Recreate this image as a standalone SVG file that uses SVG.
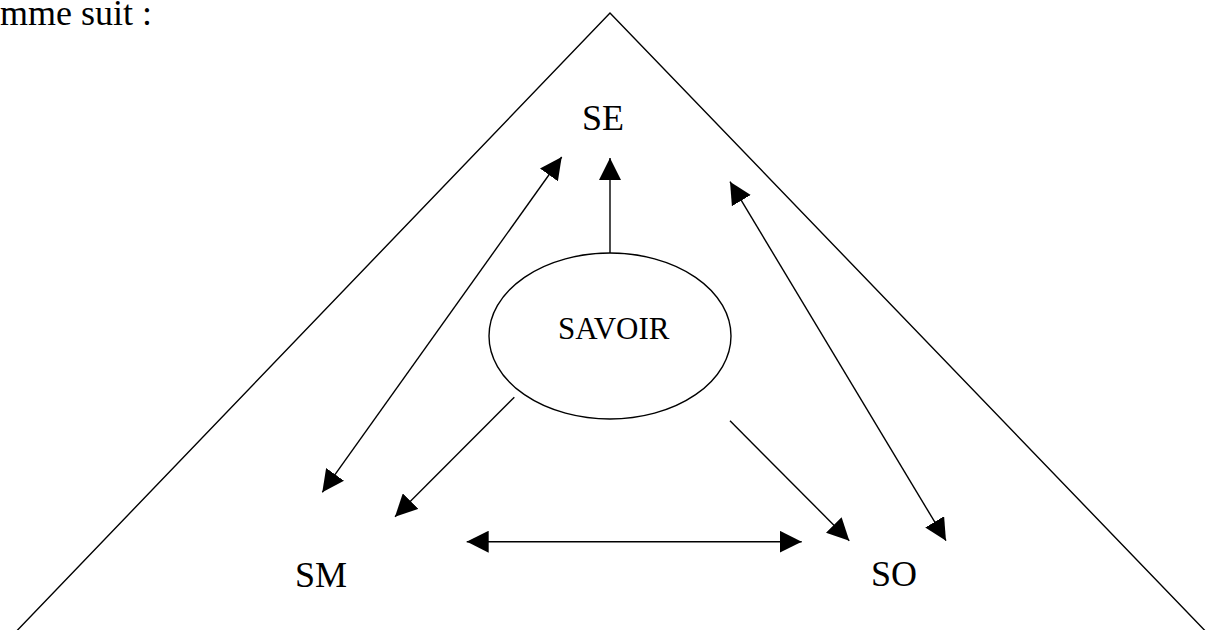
<svg xmlns="http://www.w3.org/2000/svg" width="1212" height="630" viewBox="0 0 1212 630">
<style>
text{font-family:"Liberation Serif","Times New Roman",serif;fill:#000}
.big{font-size:36px}
.mid{font-size:31px}
.ln{stroke:#000;stroke-width:1.4;fill:none}
</style>
<defs>
<marker id="ah" markerUnits="userSpaceOnUse" markerWidth="22" markerHeight="22" viewBox="0 0 20 20" refX="20" refY="10" orient="auto-start-reverse">
<path d="M0,0 L20,10 L0,20 z" fill="#000"/>
</marker>
</defs>
<rect width="1212" height="630" fill="#fff"/>
<text class="big" x="0" y="25">mme suit :</text>
<g id="pyramid">
<polyline class="ln" points="8,640 610,13 1214,640"/>
</g>
<g id="SE"><text class="big" x="582" y="130">SE</text></g>
<g id="SM"><text class="big" x="295" y="587">SM</text></g>
<g id="SO"><text class="big" x="871" y="586">SO</text></g>
<g id="SAVOIR">
<ellipse class="ln" cx="610" cy="336" rx="121" ry="83"/>
<text class="mid" x="558" y="339">SAVOIR</text>
</g>
<g id="connectors" class="ln">
<line x1="610" y1="253" x2="610" y2="158" marker-end="url(#ah)"/>
<line x1="514.3" y1="397.3" x2="395" y2="516.7" marker-end="url(#ah)"/>
<line x1="730" y1="420.7" x2="849.3" y2="540.7" marker-end="url(#ah)"/>
<line x1="466.7" y1="541.7" x2="801.7" y2="541.7" marker-start="url(#ah)" marker-end="url(#ah)"/>
<line x1="322.3" y1="492.3" x2="561.7" y2="157" marker-start="url(#ah)" marker-end="url(#ah)"/>
<line x1="730" y1="181.7" x2="946" y2="540.7" marker-start="url(#ah)" marker-end="url(#ah)"/>
</g>
</svg>
